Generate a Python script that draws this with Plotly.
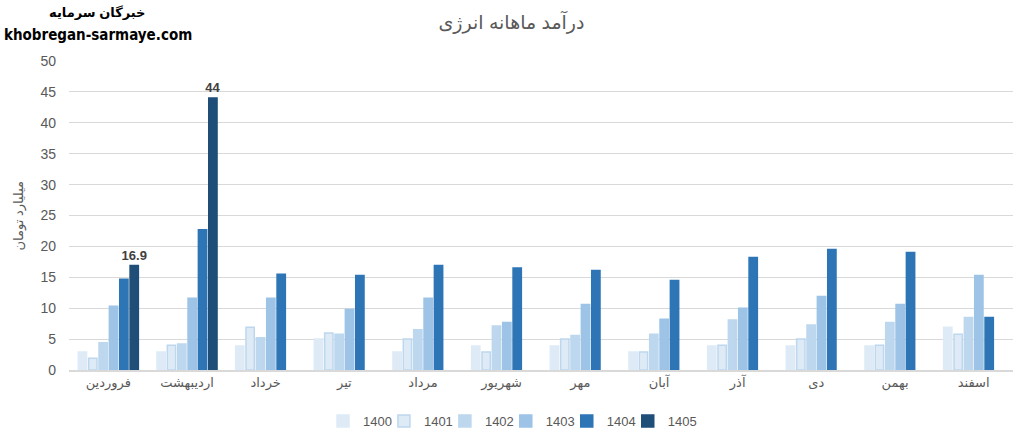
import plotly.graph_objects as go

months = ['فروردین', 'اردیبهشت', 'خرداد', 'تیر', 'مرداد', 'شهریور',
          'مهر', 'آبان', 'آذر', 'دی', 'بهمن', 'اسفند']

y1400 = [2.9, 2.9, 3.9, 5.0, 2.9, 3.9, 3.9, 2.9, 3.9, 3.9, 3.9, 6.9]
y1401 = [1.9, 4.0, 6.9, 6.0, 5.0, 2.9, 5.0, 2.9, 4.0, 5.0, 4.0, 5.8]
y1402 = [4.4, 4.2, 5.2, 5.8, 6.5, 7.1, 5.6, 5.8, 8.1, 7.3, 7.7, 8.5]
y1403 = [10.3, 11.6, 11.6, 9.8, 11.6, 7.7, 10.6, 8.2, 10.0, 11.9, 10.6, 15.3]
y1404 = [14.7, 22.7, 15.5, 15.3, 16.9, 16.5, 16.1, 14.5, 18.2, 19.5, 19.0, 8.5]
y1405 = [16.9, 44]
labels1405 = ['<b>16.9</b>', '<b>44</b>']

font_fa = 'Liberation Sans, DejaVu Sans, sans-serif'
grey = '#595959'

series = [
    ('1400', y1400, '#DEEBF7', '#DEEBF7'),
    ('1401', y1401, '#DEEBF7', '#BDD7EE'),
    ('1402', y1402, '#BDD7EE', '#BDD7EE'),
    ('1403', y1403, '#9DC3E6', '#9DC3E6'),
    ('1404', y1404, '#2E75B6', '#2E75B6'),
    ('1405', y1405, '#1F4E79', '#1F4E79'),
]
# one small legend per series so the entries sit close together like the original
legend_x = [0.2691, 0.3336, 0.3982, 0.4627, 0.5273, 0.5919]

fig = go.Figure()
for i, (name, vals, fill, edge) in enumerate(series):
    lg = 'legend' if i == 0 else 'legend%d' % (i + 1)
    bar = go.Bar(x=months[:len(vals)], y=vals, name=name, legend=lg,
                 marker=dict(color=fill, line=dict(color=edge, width=1.5)))
    if name == '1405':
        bar.update(text=labels1405, textposition='outside', cliponaxis=False,
                   constraintext='none',
                   textfont=dict(size=13, color='#404040', family='Liberation Sans, sans-serif'))
    fig.add_trace(bar)
    fig.update_layout({lg: dict(orientation='h', x=legend_x[i], xanchor='left',
                                y=-0.165, yanchor='middle', itemwidth=30,
                                bgcolor='rgba(0,0,0,0)',
                                font=dict(size=13, color=grey))})

fig.update_layout(
    width=1023, height=445,
    margin=dict(l=69, r=10, t=61, b=75, autoexpand=False),
    paper_bgcolor='white', plot_bgcolor='white',
    barmode='group', bargap=0.21, bargroupgap=0.2,
    font=dict(family=font_fa, color=grey, size=13),
    title=dict(text='درآمد ماهانه انرژی', x=0.5, xanchor='center', y=0.95, yanchor='middle',
               font=dict(size=19, color=grey, family=font_fa)),
    showlegend=True,
)
fig.update_xaxes(categoryorder='array', categoryarray=months, showgrid=False,
                 showline=True, linecolor='#D9D9D9', linewidth=1.5, automargin=False,
                 ticks='', tickfont=dict(size=13, color=grey))
fig.update_yaxes(range=[0, 50], dtick=5, showgrid=True, gridcolor='#D9D9D9', gridwidth=1,
                 zeroline=False, ticks='', automargin=False,
                 tickfont=dict(size=14, color=grey), ticklabelstandoff=12)

fig.add_annotation(text='میلیارد تومان', textangle=-90, xref='paper', yref='paper',
                   x=-0.054, y=0.5, xanchor='center', yanchor='middle',
                   showarrow=False, font=dict(size=13, color=grey))
fig.add_annotation(text='<b>خبرگان سرمایه</b>', xref='paper', yref='paper',
                   x=0.0297, y=1.158, xanchor='center', yanchor='middle',
                   showarrow=False, font=dict(size=13, color='black'))
fig.add_annotation(text='<b>khobregan-sarmaye.com</b>', xref='paper', yref='paper',
                   x=0.0307, y=1.085, xanchor='center', yanchor='middle', showarrow=False,
                   font=dict(size=15, color='black', family='DejaVu Sans Condensed, Liberation Sans Narrow, sans-serif'))

fig.write_html('out.html', config={'displayModeBar': False},
               post_script="document.body.style.margin='0px';")
